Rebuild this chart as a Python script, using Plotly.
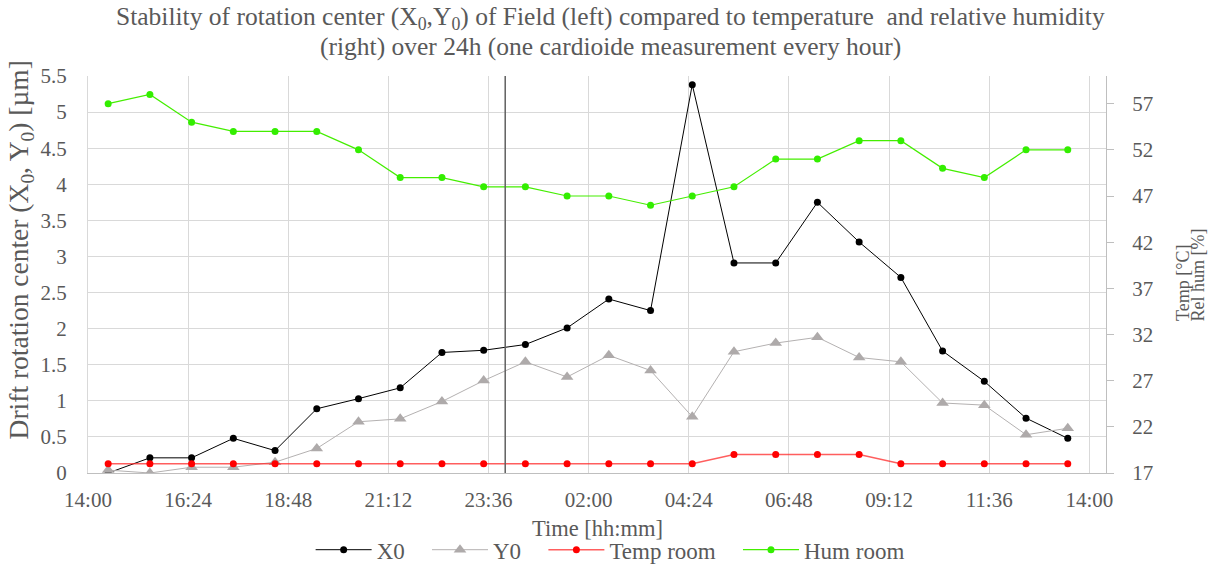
import plotly.graph_objects as go
from datetime import datetime, timedelta

# ---- data ----
TIME_LABELS = ["14:29", "15:29", "16:29", "17:29", "18:29", "19:29", "20:29", "21:29",
               "22:29", "23:29", "00:29", "01:29", "02:29", "03:29", "04:29", "05:29",
               "06:29", "07:29", "08:29", "09:29", "10:29", "11:29", "12:29", "13:29"]
X0 = [0.00, 0.21, 0.21, 0.48, 0.31, 0.89, 1.03, 1.18, 1.67, 1.70, 1.78, 2.01,
      2.41, 2.25, 5.38, 2.91, 2.91, 3.75, 3.20, 2.71, 1.69, 1.27, 0.76, 0.48]
Y0 = [0.04, 0.00, 0.08, 0.08, 0.15, 0.34, 0.71, 0.75, 0.99, 1.28, 1.54, 1.33,
      1.63, 1.42, 0.78, 1.68, 1.80, 1.88, 1.60, 1.54, 0.97, 0.94, 0.53, 0.62]
TEMP = [18, 18, 18, 18, 18, 18, 18, 18, 18, 18, 18, 18,
        18, 18, 18, 19, 19, 19, 19, 18, 18, 18, 18, 18]
HUM = [57, 58, 55, 54, 54, 54, 52, 49, 49, 48, 48, 47,
       47, 46, 47, 48, 51, 51, 53, 53, 50, 49, 52, 52]
SERIES_NAMES = ["X0", "Y0", "Temp room", "Hum room"]

START_DAY = "2021-03-01"
X_START = "2021-03-01 14:00"
X_END = "2021-03-02 14:24"
MIDNIGHT = "2021-03-02 00:00"
LEFT_RANGE = [0, 5.5]
RIGHT_RANGE = [17, 60]

TITLE_1 = "Stability of rotation center (X<sub>0</sub>,Y<sub>0</sub>) of Field (left) compared to temperature  and relative humidity"
TITLE_2 = "(right) over 24h (one cardioide measurement every hour)"

# convert clock labels to datetimes (times before 14:00 belong to next day)
base = datetime.strptime(START_DAY, "%Y-%m-%d")
times = []
for t in TIME_LABELS:
    h, m = map(int, t.split(":"))
    d = base + timedelta(hours=h, minutes=m)
    if h < 14:
        d += timedelta(days=1)
    times.append(d)

FONT = "Liberation Serif"
GRAY_TXT = "#595959"
PAD = "\u00a0\u00a0\u00a0"  # legend spacing

fig = go.Figure()
fig.add_trace(go.Scatter(x=times, y=X0, name=SERIES_NAMES[0] + PAD, mode="lines+markers",
                         line=dict(color="black", width=1),
                         marker=dict(symbol="circle", size=7, color="black")))
fig.add_trace(go.Scatter(x=times, y=Y0, name=SERIES_NAMES[1] + PAD, mode="lines+markers",
                         line=dict(color="#b4b1b1", width=1),
                         marker=dict(symbol="triangle-up", size=11, color="#aeaaaa")))
fig.add_trace(go.Scatter(x=times, y=TEMP, name=SERIES_NAMES[2] + PAD, mode="lines+markers",
                         yaxis="y2",
                         line=dict(color="rgba(255,40,40,0.75)", width=1.5),
                         marker=dict(symbol="circle", size=7, color="#ff0000")))
fig.add_trace(go.Scatter(x=times, y=HUM, name=SERIES_NAMES[3], mode="lines+markers",
                         yaxis="y2",
                         line=dict(color="#44ee00", width=1.2),
                         marker=dict(symbol="circle", size=7, color="#33ee00")))

fig.add_shape(type="line", xref="x", yref="paper", x0=MIDNIGHT, x1=MIDNIGHT, y0=0, y1=1,
              line=dict(color="#606060", width=1.5))

fig.update_layout(
    width=1213, height=565,
    margin=dict(l=88, r=107, t=76, b=92, autoexpand=False),
    paper_bgcolor="white", plot_bgcolor="white",
    font=dict(family=FONT, color=GRAY_TXT, size=20),
    xaxis=dict(type="date", range=[X_START, X_END], tick0=X_START, dtick=8640000,
               tickformat="%H:%M", showgrid=True, gridcolor="#d9d9d9", gridwidth=1,
               showline=True, linecolor="#bfbfbf", linewidth=1, ticks="",
               ticklabelstandoff=8, zeroline=False, automargin=False,
               tickfont=dict(size=21, color=GRAY_TXT)),
    yaxis=dict(range=LEFT_RANGE, dtick=0.5, tick0=0, showgrid=True, gridcolor="#d9d9d9",
               gridwidth=1, showline=True, linecolor="#d9d9d9", zeroline=False, ticks="",
               ticklabelstandoff=16, automargin=False, tickfont=dict(size=21, color=GRAY_TXT)),
    yaxis2=dict(range=RIGHT_RANGE, tick0=17, dtick=5, overlaying="y", side="right",
                showgrid=False, showline=True, linecolor="#bfbfbf", zeroline=False,
                ticks="outside", ticklen=7, tickcolor="#bfbfbf", automargin=False,
                ticklabelstandoff=14, tickfont=dict(size=21, color=GRAY_TXT)),
    legend=dict(orientation="h", x=0.503, xref="container", xanchor="center",
                y=0.027, yref="container", yanchor="middle",
                font=dict(size=23, color=GRAY_TXT), bgcolor="rgba(0,0,0,0)",
                itemwidth=56, tracegroupgap=0),
    showlegend=True,
)

def py(px):  # helper: pixel row -> paper y (plot spans rows 76..473)
    return (473 - px) / 397.0

ann = [
    dict(text=TITLE_1, x=0.513, y=py(18), font=dict(size=25.5, color=GRAY_TXT)),
    dict(text=TITLE_2, x=0.513, y=py(47), font=dict(size=25.5, color=GRAY_TXT)),
    dict(text="Drift rotation center (X<sub>0</sub>, Y<sub>0</sub>) [µm]", textangle=-90,
         x=-0.0654, y=py(250), font=dict(size=27.5, color=GRAY_TXT)),
    dict(text="Time [hh:mm]", x=0.5, y=py(528), font=dict(size=22.5, color=GRAY_TXT)),
    dict(text="Temp [°C]", textangle=-90, x=1.0756, y=py(323), yanchor="bottom",
         font=dict(size=18, color=GRAY_TXT)),
    dict(text="Rel hum [%]", textangle=-90, x=1.0903, y=py(323), yanchor="bottom",
         font=dict(size=18, color=GRAY_TXT)),
]
for a in ann:
    a.setdefault("xanchor", "center")
    a.setdefault("yanchor", "middle")
    fig.add_annotation(xref="paper", yref="paper", showarrow=False, **a)

fig.write_html("out.html")
